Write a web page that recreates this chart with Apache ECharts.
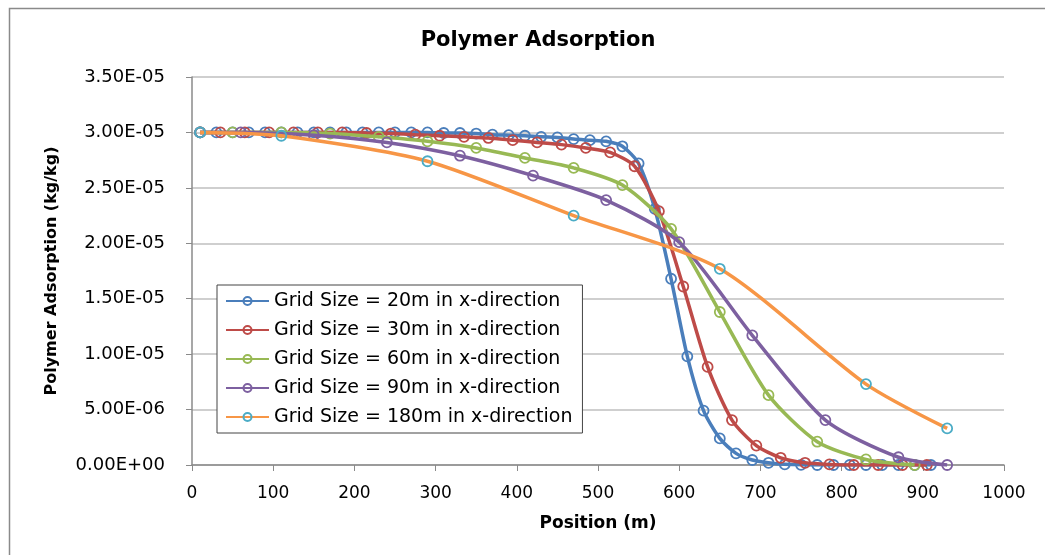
<!DOCTYPE html>
<html>
<head>
<meta charset="utf-8">
<script src="https://cdn.jsdelivr.net/npm/echarts@6/dist/echarts.min.js"></script>
<style>
  html, body { margin: 0; padding: 0; background: #fff; }
  #chart { width: 1045px; height: 555px; }
</style>
</head>
<body>
<div id="chart"></div>
<script>
// ---- Data (values in units of 1e-5 kg/kg) ----
const seriesNames = [
  'Grid Size = 20m in x-direction',
  'Grid Size = 30m in x-direction',
  'Grid Size = 60m in x-direction',
  'Grid Size = 90m in x-direction',
  'Grid Size = 180m in x-direction'
];
const grid20X = [10,30,50,70,90,110,130,150,170,190,210,230,250,270,290,310,330,350,370,390,410,430,450,470,490,510,530,550,570,590,610,630,650,670,690,710,730,750,770,790,810,830,850,870,890,910];
const grid20Y = [3.0,3.0,3.0,3.0,3.0,3.0,3.0,3.0,3.0,3.0,3.0,3.0,3.0,3.0,3.0,2.995,2.995,2.99,2.98,2.975,2.97,2.96,2.955,2.94,2.93,2.92,2.875,2.72,2.31,1.68,0.98,0.49,0.24,0.105,0.045,0.02,0.006,0.002,0,0,0,0,0,0,0,0];
const grid30X = [10,35,65,95,125,155,185,215,245,275,305,335,365,395,425,455,485,515,545,575,605,635,665,695,725,755,785,815,845,875,905];
const grid30Y = [3.0,3.0,3.0,3.0,3.0,3.0,3.0,2.995,2.99,2.98,2.97,2.96,2.95,2.93,2.91,2.89,2.86,2.82,2.695,2.29,1.61,0.885,0.405,0.175,0.065,0.02,0.005,0,0,0,0];
const grid60X = [10,50,110,170,230,290,350,410,470,530,590,650,710,770,830,890];
const grid60Y = [3.0,3.0,3.0,2.99,2.96,2.92,2.86,2.77,2.68,2.525,2.13,1.38,0.63,0.21,0.05,0];
const grid90X = [10,60,150,240,330,420,510,600,690,780,870,930];
const grid90Y = [3.0,3.0,2.975,2.91,2.79,2.61,2.39,2.01,1.17,0.405,0.07,0];
const grid180X = [10,110,290,470,650,830,930];
const grid180Y = [3.0,2.97,2.74,2.25,1.77,0.73,0.33];

const lineColors = ['#4A7EBB', '#BE4B48', '#98B954', '#7D60A0', '#F79646'];
const markerColors = ['#4A7EBB', '#BE4B48', '#98B954', '#7D60A0', '#4BACC6'];
const xTicks = { min: 0, max: 1000, step: 100 };
const yTicks = { min: 0, max: 3.5e-5, step: 5e-6 };

function toPairs(xs, ys) { return xs.map((x, i) => [x, ys[i] * 1e-5]); }
const allData = [
  toPairs(grid20X, grid20Y),
  toPairs(grid30X, grid30Y),
  toPairs(grid60X, grid60Y),
  toPairs(grid90X, grid90Y),
  toPairs(grid180X, grid180Y)
];

function sci(v) {
  if (Math.abs(v) < 1e-12) return '0.00E+00';
  let e = Math.floor(Math.log10(Math.abs(v)) + 1e-9);
  let m = v / Math.pow(10, e);
  if (Math.abs(m) >= 9.995) { m /= 10; e += 1; }
  const sign = e < 0 ? '-' : '+';
  const ee = String(Math.abs(e)).padStart(2, '0');
  return m.toFixed(2) + 'E' + sign + ee;
}

const FONT = '"DejaVu Sans", Verdana, sans-serif';

const chart = echarts.init(document.getElementById('chart'), null, { renderer: 'canvas' });
chart.setOption({
  animation: false,
  backgroundColor: '#fff',
  textStyle: { fontFamily: FONT },
  graphic: [{
    type: 'rect', left: 7, top: 6, z: -10, silent: true,
    shape: { width: 1100, height: 600 },
    style: { fill: 'none', stroke: '#8a8a8a', lineWidth: 1.5 }
  }],
  title: {
    text: 'Polymer Adsorption',
    left: 533, top: 25, textAlign: 'center',
    textStyle: { fontFamily: FONT, fontWeight: 'bold', fontSize: 21, color: '#000' }
  },
  grid: { left: 192, top: 77, right: 41, bottom: 90, containLabel: false },
  xAxis: {
    type: 'value', min: xTicks.min, max: xTicks.max, interval: xTicks.step,
    name: 'Position (m)', nameLocation: 'middle', nameGap: 50,
    nameTextStyle: { fontFamily: FONT, fontWeight: 'bold', fontSize: 17, color: '#000' },
    axisLine: { show: true, lineStyle: { color: '#8a8a8a', width: 1.5 } },
    axisTick: { show: true, inside: false, length: 6, lineStyle: { color: '#8a8a8a', width: 1 } },
    axisLabel: { fontFamily: FONT, fontSize: 17, color: '#000', margin: 20, formatter: v => String(v) },
    splitLine: { show: false }
  },
  yAxis: {
    type: 'value', min: yTicks.min, max: yTicks.max, interval: yTicks.step,
    name: 'Polymer Adsorption (kg/kg)', nameLocation: 'middle', nameGap: 132,
    nameTextStyle: { fontFamily: FONT, fontWeight: 'bold', fontSize: 16, color: '#000' },
    axisLine: { show: true, lineStyle: { color: '#8a8a8a', width: 1.5 } },
    axisTick: { show: true, inside: false, length: 6, lineStyle: { color: '#8a8a8a', width: 1 } },
    axisLabel: { fontFamily: FONT, fontSize: 18, color: '#000', margin: 27, formatter: sci },
    splitLine: { show: true, lineStyle: { color: '#bfbfbf', width: 1.5 } }
  },
  legend: {
    orient: 'vertical', left: 217, top: 285,
    backgroundColor: '#fff', borderColor: '#444', borderWidth: 1,
    padding: [6, 10, 6, 8], itemGap: 9, itemWidth: 43, itemHeight: 10,
    textStyle: { fontFamily: FONT, fontSize: 19, lineHeight: 20, color: '#000' },
    data: seriesNames
  },
  series: seriesNames.map((name, i) => ({
    name: name,
    type: 'line',
    data: allData[i],
    smooth: 0.25,
    symbol: 'circle',
    symbolSize: 10,
    showSymbol: true,
    z: 2 + i,
    lineStyle: { color: lineColors[i], width: 3.5 },
    itemStyle: { color: 'rgba(255,255,255,0)', borderColor: markerColors[i], borderWidth: 1.8 },
    emphasis: { disabled: true }
  }))
});
</script>
</body>
</html>
